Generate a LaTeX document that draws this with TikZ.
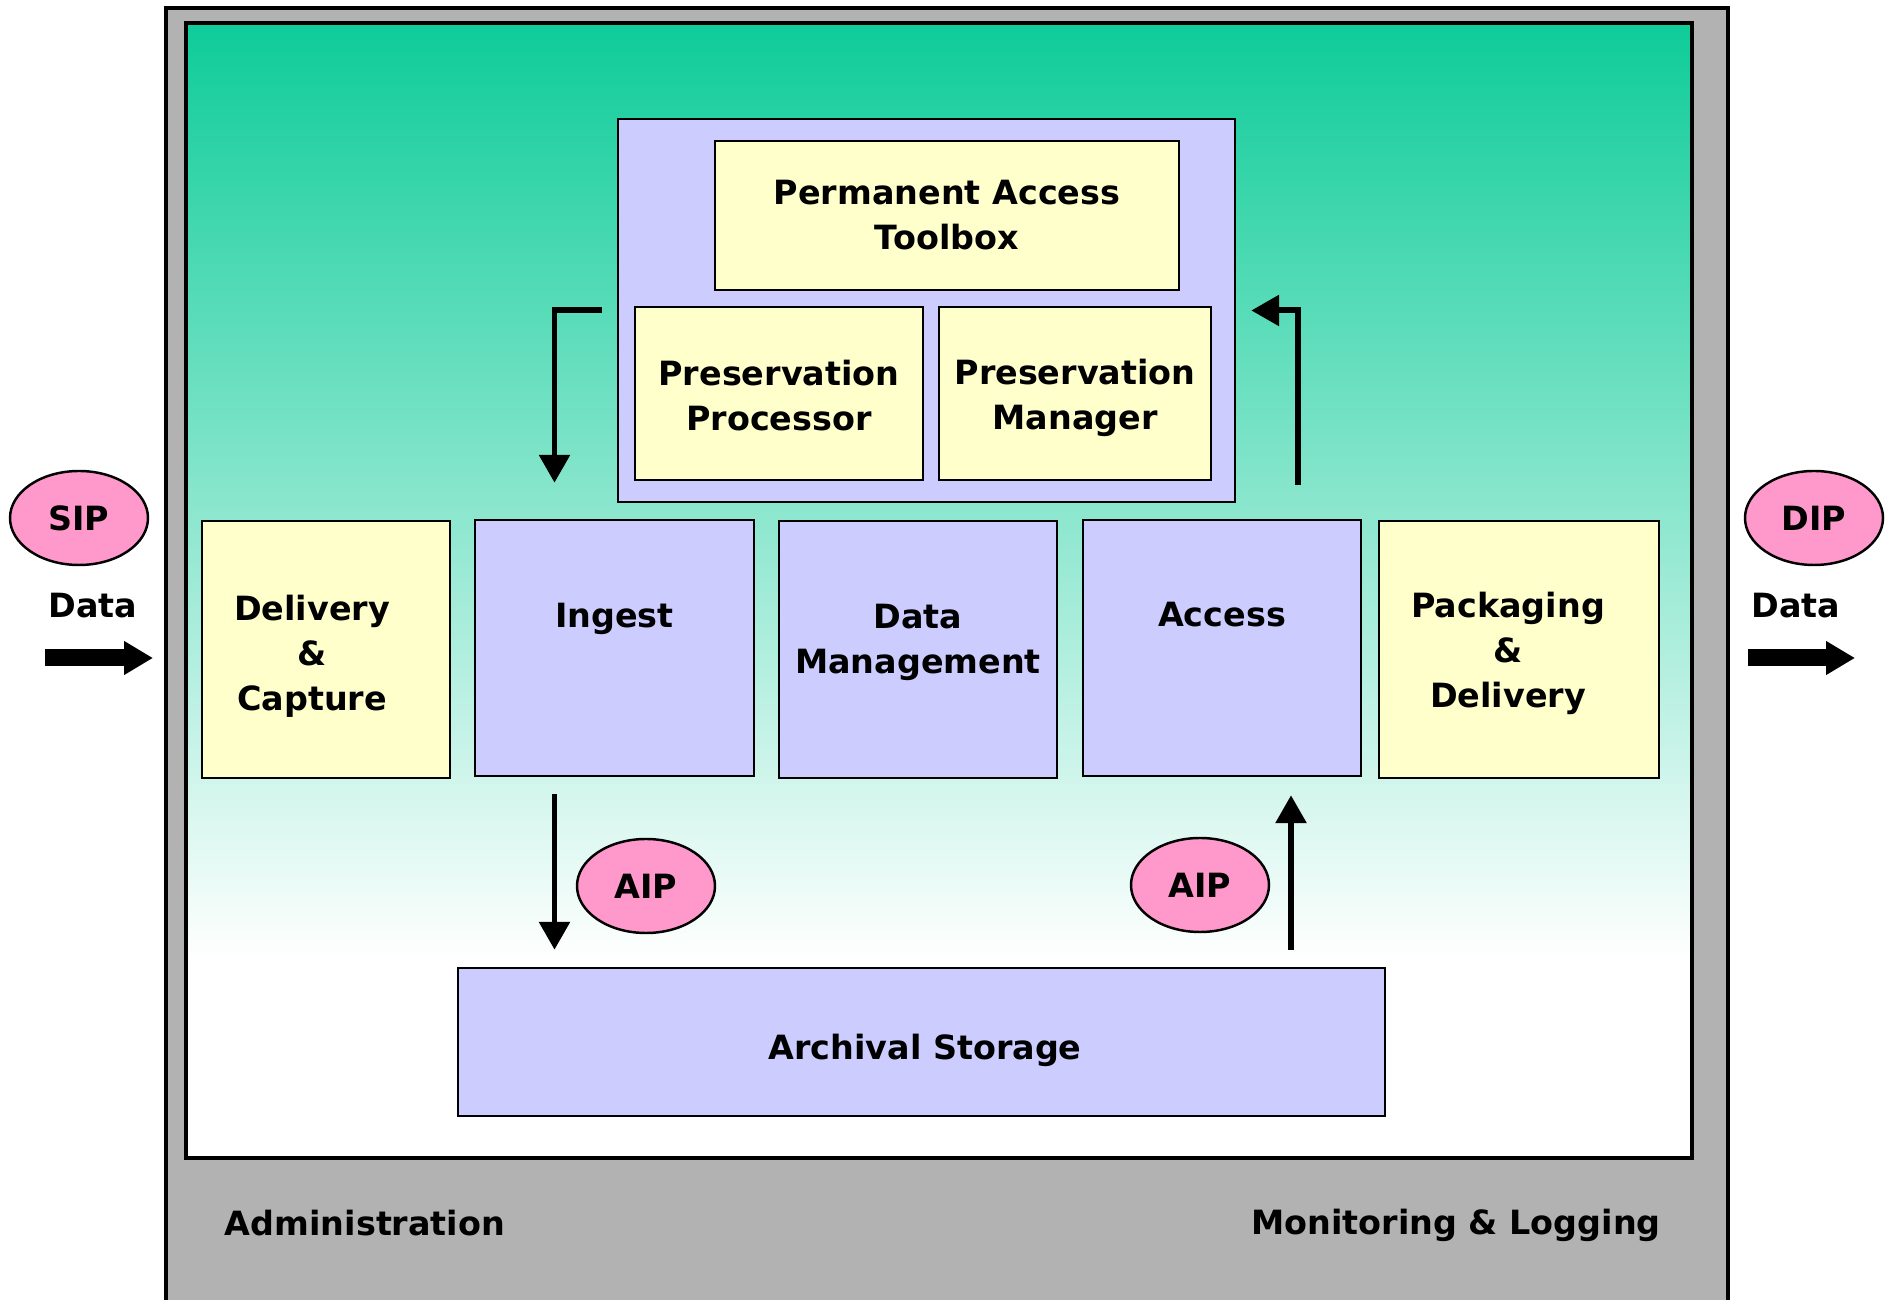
\documentclass[tikz,border=0pt]{standalone}
\usepackage{fontspec}
\setmainfont{DejaVu Sans}
\usetikzlibrary{arrows.meta,shapes.geometric}
\definecolor{frame}{HTML}{B2B2B2}
\definecolor{seagreen}{HTML}{0ECC99}
\definecolor{lilac}{HTML}{CCCCFF}
\definecolor{cream}{HTML}{FFFFCC}
\definecolor{pinky}{HTML}{FF99CC}

\begin{document}
\begin{tikzpicture}[
  font=\bfseries\fontsize{9.5}{12.8}\selectfont,
  box/.style={draw,line width=0.7pt,align=center,inner sep=0pt},
  func/.style={box,fill=lilac},
  tool/.style={box,fill=cream},
  pkg/.style={draw,line width=0.7pt,ellipse,fill=pinky,inner sep=0pt,
    minimum width=1.38cm,minimum height=0.94cm},
  flow/.style={line width=1.7pt,-{Triangle[width=0.3cm,length=0.28cm]}},
  bigflow/.style={line width=0.17cm,-{Triangle[width=0.32cm,length=0.29cm]}}
]
\useasboundingbox (0,0) rectangle (18.85,12.99);

\filldraw[fill=frame,line width=0.9pt] (1.66,-0.5) rectangle (17.28,12.91);
\fill[white] (1.86,1.41) rectangle (16.92,12.76);
\shade[top color=seagreen,bottom color=white] (1.86,3.39) rectangle (16.92,12.76);
\draw[line width=0.9pt] (1.86,1.41) rectangle (16.92,12.76);

\node[func,minimum width=6.17cm,minimum height=3.83cm] (pres) at (9.265,9.885) {};
\node[tool,minimum width=4.64cm,minimum height=1.49cm] (pat) at (9.47,10.835) {Permanent Access\\Toolbox};
\node[tool,minimum width=2.88cm,minimum height=1.73cm] (pp) at (7.79,9.055) {};
\node[tool,minimum width=2.72cm,minimum height=1.73cm] (pm) at (10.75,9.055) {};
\node[align=center] (pptxt) at (7.79,9.03) {Preservation\\Processor};
\node[align=center] (pmtxt) at (10.75,9.01) {Preservation\\Manager};

\node[tool,minimum width=2.48cm,minimum height=2.57cm] (capture) at (3.26,6.495) {};
\node[func,minimum width=2.79cm,minimum height=2.56cm] (ingest) at (6.145,6.51) {};
\node[func,minimum width=2.78cm,minimum height=2.57cm] (dm) at (9.18,6.495) {};
\node[func,minimum width=2.78cm,minimum height=2.56cm] (access) at (12.22,6.51) {};
\node[tool,minimum width=2.80cm,minimum height=2.57cm] (packaging) at (15.19,6.495) {};
\node[align=center] (capturetxt) at (3.12,6.43) {Delivery\\\&\\Capture};
\node (ingesttxt) at (6.145,6.80) {Ingest};
\node[align=center] (dmtxt) at (9.18,6.57) {Data\\Management};
\node (accesstxt) at (12.22,6.84) {Access};
\node[align=center] (packagingtxt) at (15.08,6.46) {Packaging\\\&\\Delivery};

\node[func,minimum width=9.27cm,minimum height=1.48cm] (archival) at (9.215,2.57) {};
\node (archivaltxt) at (9.25,2.49) {Archival Storage};

\node[pkg] (sip) at (0.79,7.81) {SIP};
\node[pkg] (dip) at (18.14,7.81) {DIP};
\node[pkg] (aipin) at (6.46,4.13) {AIP};
\node[pkg] (aipout) at (12.00,4.14) {AIP};

\node (datain) at (0.93,6.93) {Data};
\node (dataout) at (17.96,6.93) {Data};
\coordinate (inL) at (0.45,6.41);
\coordinate (inR) at (1.53,6.41);
\coordinate (outL) at (17.48,6.41);
\coordinate (outR) at (18.55,6.41);
\draw[bigflow] (inL) -- (inR);
\draw[bigflow] (outL) -- (outR);

\draw[flow] ([xshift=-0.15cm]pres.west) -| ([xshift=-0.6cm,yshift=0.36cm]ingest.north);
\draw[flow] ([xshift=0.76cm,yshift=0.34cm]access.north) |- ([xshift=0.15cm]pres.east);
\draw[flow,shorten <=0.17cm,shorten >=0.17cm] ([xshift=-0.6cm]ingest.south)
  -- ([xshift=-0.6cm]ingest.south |- archival.north);
\draw[flow,shorten <=0.17cm,shorten >=0.18cm] ([xshift=0.69cm]access.south |- archival.north)
  -- ([xshift=0.69cm]access.south);

\node (admin) at (3.65,0.76) {Administration};
\node (monitor) at (14.56,0.74) {Monitoring \& Logging};
\end{tikzpicture}
\end{document}
